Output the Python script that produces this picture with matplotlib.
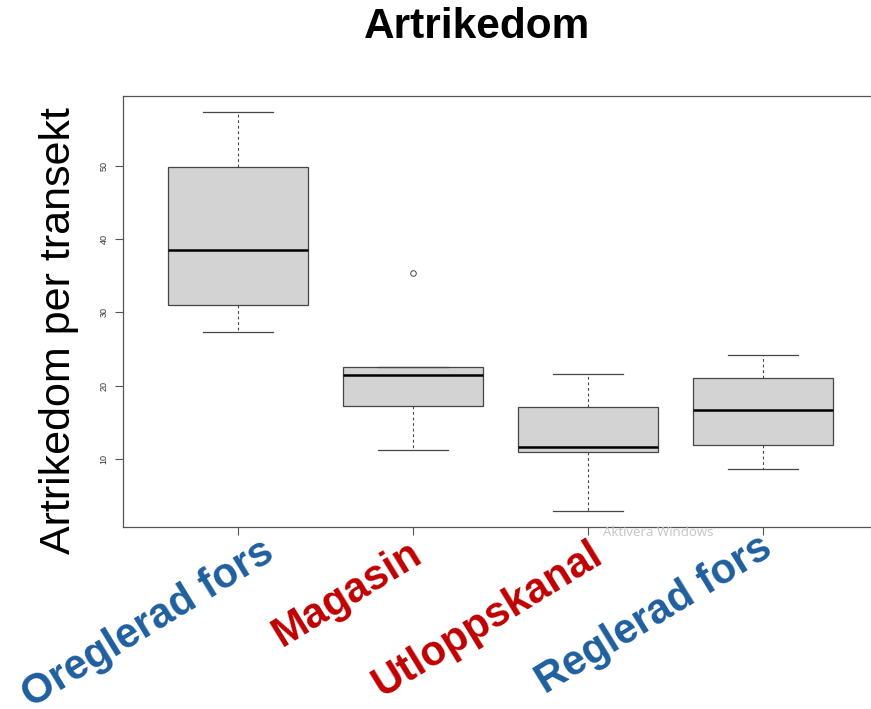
import matplotlib
matplotlib.use("Agg")
import matplotlib.pyplot as plt

plt.rcParams['font.family'] = ['Liberation Sans', 'DejaVu Sans']

# Summary statistics per site type (species richness per transect)
groups = ["Oreglerad fors", "Magasin", "Utloppskanal", "Reglerad fors"]
group_colors = ["#1f5f9e", "#c00000", "#c00000", "#1f5f9e"]
whisker_low = [27.3, 11.2, 2.9, 8.6]
q1 = [31.0, 17.2, 11.0, 11.9]
median = [38.5, 21.5, 11.6, 16.7]
q3 = [49.8, 22.6, 17.1, 21.1]
whisker_high = [57.3, 22.6, 21.6, 24.2]
outliers = [[], [35.4], [], []]
y_ticks = [10, 20, 30, 40, 50]

W, H = 871, 709
fig = plt.figure(figsize=(W / 100, H / 100), dpi=100)
ax = fig.add_axes([122.5 / W, (H - 527) / H, 756 / W, (527 - 96) / H])

stats = []
for i, g in enumerate(groups):
    stats.append(dict(label=g, whislo=whisker_low[i], q1=q1[i], med=median[i],
                      q3=q3[i], whishi=whisker_high[i], fliers=outliers[i]))

edge = "#454545"
ax.bxp(stats, positions=range(1, len(groups) + 1), widths=0.8, patch_artist=True,
       showfliers=True,
       boxprops=dict(facecolor="#d3d3d3", edgecolor=edge, linewidth=0.9),
       medianprops=dict(color="black", linewidth=1.8),
       whiskerprops=dict(color=edge, linewidth=0.8, linestyle=(0, (2.5, 2.5))),
       capprops=dict(color=edge, linewidth=0.9),
       capwidths=0.4,
       flierprops=dict(marker="o", markersize=4, markerfacecolor="none",
                       markeredgecolor=edge, markeredgewidth=0.7))

ax.set_xlim(0.34, 4.66)
ax.set_ylim(0.72, 59.5)
ax.set_yticks(y_ticks)
ax.set_yticklabels([str(t) for t in y_ticks], rotation=90, va="center",
                   fontsize=6.5, color="#333333")
ax.set_xticks(range(1, len(groups) + 1))
ax.set_xticklabels([])
ax.tick_params(axis="both", length=6, width=0.8, color="#555555", pad=4)
for s in ax.spines.values():
    s.set_color("#555555")
    s.set_linewidth(0.9)

fig.text(477 / W, 1 - 27 / H, "Artrikedom", ha="center", va="center",
         fontsize=30.5, fontweight="bold")
fig.text(59 / W, 1 - 330 / H, "Artrikedom per transekt", ha="center", va="center",
         rotation=90, fontsize=31)

# large rotated category labels below the axis
label_centers = [(148, 624), (347, 594), (488, 620), (654, 615)]
for (x, y), name, col in zip(label_centers, groups, group_colors):
    fig.text(x / W, 1 - y / H, name, ha="center", va="center", rotation=31.5,
             rotation_mode="anchor", fontsize=30, fontweight="bold", color=col)

fig.text(603 / W, 1 - 532 / H, "Aktivera Windows", ha="left", va="center",
         fontsize=9.5, color="#c4c4c4", family=["Open Sans", "DejaVu Sans"])

fig.savefig("out.png", dpi=100)
